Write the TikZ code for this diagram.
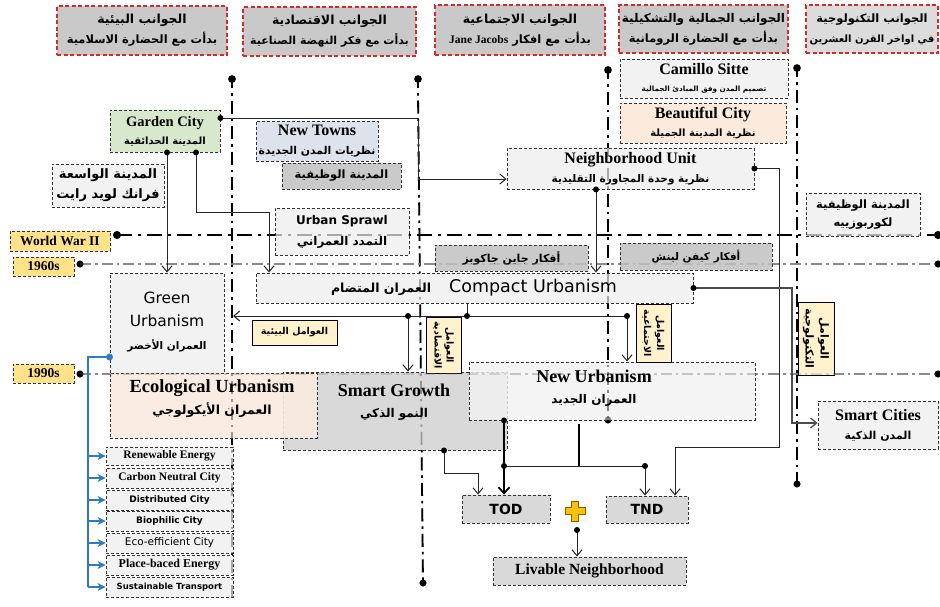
\documentclass[tikz,border=0pt]{standalone}
\usepackage{fontspec}
\setmainfont{Liberation Serif}
\newfontfamily\arf[Script=Arabic]{DejaVu Sans}
\newfontfamily\dvs{DejaVu Sans}
\TeXXeTstate=1
\usetikzlibrary{arrows.meta,calc}
\definecolor{hdrfill}{HTML}{C9C9C9}
\definecolor{hdrfillb}{HTML}{DCDCDC}
\definecolor{hdrred}{HTML}{D42A2A}
\definecolor{gcfill}{HTML}{D7E8CC}
\definecolor{ntfill}{HTML}{DDE3EC}
\definecolor{lgray}{HTML}{F2F2F2}
\definecolor{mgray}{HTML}{D9D9D9}
\definecolor{dgray}{HTML}{CACACA}
\definecolor{peach}{HTML}{FCEADC}
\definecolor{eufill}{HTML}{FAEBE1}
\definecolor{erafill}{HTML}{FFE28A}
\definecolor{facfill}{HTML}{FFF2CC}
\definecolor{blueline}{HTML}{2E7BC4}
\definecolor{plusfill}{HTML}{FFC000}
\definecolor{tlgray}{HTML}{8C8C8C}
\newcommand\AR[2]{{\arf\bfseries\fontsize{#1}{#1}\selectfont #2}}
\newcommand\EN[2]{{\bfseries\fontsize{#1}{#1}\selectfont #2}}
\newcommand\SN[2]{{\dvs\fontsize{#1}{#1}\selectfont #2}}
\newcommand\SB[2]{{\dvs\bfseries\fontsize{#1}{#1}\selectfont #2}}
\newcommand\bx[7]{\node[#6,minimum width={(#4)-(#2)},minimum height={(#5)-(#3)}] (#1) at ({((#2)+(#4))/2},{((#3)+(#5))/2}) {#7};}
\newcommand\rbx[7]{\node[#6,rotate=-90,minimum width={(#5)-(#3)},minimum height={(#4)-(#2)}] (#1) at ({((#2)+(#4))/2},{((#3)+(#5))/2}) {#7};}
\newcommand\timelines{%
  \fill (232,79) circle (3.8pt); \draw[line width=1.8pt] (232,79) -- (232,88);
  \draw[tlv] (232,93) -- (232,597);
  \fill (418,79) circle (3.8pt); \draw[line width=1.8pt] (418,79) -- (418,88);
  \draw[tlv] (418,93) -- (423,583); \fill (423,583) circle (3.5pt);
  \fill (608,70) circle (3.8pt); \draw[line width=1.8pt] (608,70) -- (608,79);
  \draw[tlv] (608,84) -- (608,420); \fill (608,420) circle (3.5pt);
  \fill (797,68) circle (3.8pt); \draw[line width=1.8pt] (797,68) -- (797,77);
  \draw[tlv] (797,82) -- (797,484); \fill (797,484) circle (3.5pt);
  \draw[tlh] (117,235) -- (938,235); \fill (117,235) circle (4pt); \fill (938,235) circle (4pt);
  \draw[tlg] (80,264) -- (938,264); \fill (80,264) circle (3.5pt); \fill (938,264) circle (3.5pt);
  \draw[tlg] (80,374) -- (938,374); \fill (80,374) circle (3.5pt); \fill (938,374) circle (3.5pt);
}
\begin{document}
\begin{tikzpicture}[x=1pt,y=-1pt,
  box/.style={draw=black!80, dash pattern=on 3pt off 2pt, line width=0.9pt, inner sep=0pt, align=center, font=\fontsize{10}{19}\selectfont},
  hdr/.style={draw=hdrred, dash pattern=on 4pt off 2.5pt, line width=1.3pt, inner sep=0pt, align=center, fill=hdrfill, font=\fontsize{10}{20}\selectfont},
  fac/.style={draw=black, line width=1pt, fill=facfill, inner sep=0pt, align=center},
  txt/.style={align=center, inner sep=0pt},
  conn/.style={line width=1pt, draw=black!85},
  arr/.style={conn, -{Straight Barb[length=6pt,width=10pt]}},
  tarr/.style={line width=1.8pt, draw=black, -{Straight Barb[length=6pt,width=11pt]}},
  barr/.style={line width=1.5pt, draw=blueline, -{Stealth[length=8pt,width=8pt]}},
  tlv/.style={line width=1.8pt, dash pattern=on 2.5pt off 5pt on 13pt off 5pt},
  tlh/.style={line width=2.2pt, dash pattern=on 15pt off 6pt on 3pt off 6pt},
  tlg/.style={line width=1.4pt, draw=tlgray, dash pattern=on 11pt off 4pt on 2.5pt off 4pt}]
\useasboundingbox (0,0) rectangle (940,606);
\fill[white] (0,0) rectangle (940,606);
\timelines
% headers
\bx{h1}{57}{6}{227}{55}{hdr}{\AR{12.5}{\beginR الجوانب البيئية\endR}\\\AR{11.5}{\beginR بدأت مع الحضارة الاسلامية\endR}}
\bx{h2}{243}{7}{416}{56}{hdr}{\AR{12.5}{\beginR الجوانب الاقتصادية\endR}\\\AR{11}{\beginR بدأت مع فكر النهضة الصناعية\endR}}
\bx{h3}{435}{5}{605}{55}{hdr}{\AR{12.5}{\beginR الجوانب الاجتماعية\endR}\\\AR{11.5}{\beginR بدأت مع افكار \beginL{\rmfamily Jane Jacobs}\endL\endR}}
\bx{h4}{619}{5}{788}{53}{hdr}{\AR{12}{\beginR الجوانب الجمالية والتشكيلية\endR}\\\AR{11.5}{\beginR بدأت مع الحضارة الرومانية\endR}}
\bx{h5}{806}{5}{938}{53}{hdr,fill=hdrfillb}{\AR{11.5}{\beginR الجوانب التكنولوجية\endR}\\\AR{10}{\beginR في اواخر القرن العشرين\endR}}
% eras
\bx{ww}{10}{231}{110}{251}{box,fill=erafill}{\EN{13.5}{World War II}}
\bx{s60}{13}{257}{74}{276}{box,fill=erafill}{\EN{13.5}{1960s}}
\bx{s90}{13}{364}{74}{383}{box,fill=erafill}{\EN{13.5}{1990s}}
% concept boxes
\bx{gc}{110}{110}{220}{152}{box,fill=gcfill,font=\fontsize{10}{18}\selectfont}{\EN{14.5}{Garden City}\\\AR{10}{\beginR المدينة الحدائقية\endR}}
\bx{flw}{52}{164}{164}{207}{box,fill=lgray,font=\fontsize{10}{20}\selectfont}{\AR{13}{\beginR المدينة الواسعة\endR}\\\AR{13}{\beginR فرانك لويد رايت\endR}}
\bx{nt}{256}{121}{378}{161}{box,fill=ntfill}{\EN{16}{New Towns}\\\AR{10.8}{\beginR نظريات المدن الجديدة\endR}}
\bx{fc}{282}{163}{401}{189}{box,fill=dgray}{\AR{11.5}{\beginR المدينة الوظيفية\endR}}
\bx{us}{275}{208}{409}{255}{box,fill=lgray,font=\fontsize{10}{21}\selectfont}{\SB{12}{Urban Sprawl}\\\AR{12}{\beginR التمدد العمراني\endR}}
\bx{cs}{620}{59}{788}{98}{box,fill=lgray,font=\fontsize{10}{17}\selectfont}{\EN{16}{Camillo Sitte}\\\AR{7.3}{\beginR تصميم المدن وفق المبادئ الجمالية\endR}}
\bx{bc}{620}{103}{786}{143}{box,fill=peach,font=\fontsize{10}{18}\selectfont}{\EN{16}{Beautiful City}\\\AR{10}{\beginR نظرية المدينة الجميلة\endR}}
\bx{nu}{507}{148}{754}{189}{box,fill=lgray}{\EN{16}{Neighborhood Unit}\\\AR{10.5}{\beginR نظرية وحدة المجاورة التقليدية\endR}}
\bx{cor}{806}{193}{920}{236}{box,fill=lgray,font=\fontsize{10}{18}\selectfont}{\AR{11.5}{\beginR المدينة الوظيفية\endR}\\\AR{11.5}{\beginR لكوربوزييه\endR}}
\bx{jj}{435}{245}{588}{271}{box,fill=dgray}{\AR{11}{\beginR أفكار جاين جاكوبز\endR}}
\bx{kl}{620}{243}{772}{270}{box,fill=dgray}{\AR{10.5}{\beginR أفكار كيفن لينش\endR}}
\bx{cu}{256}{273}{693}{303}{box,fill=lgray}{}
\bx{gu}{110}{273}{224}{373}{box,fill=lgray}{}
\bx{sg}{283}{372}{507}{450}{box,fill=mgray}{}
\bx{eu}{110}{373}{317}{438}{box,fill=eufill,fill opacity=0.9}{}
\bx{nurb}{469}{362}{755}{420}{box,fill=lgray,fill opacity=0.8}{}
\bx{sc}{818}{401}{938}{449}{box,fill=lgray}{\EN{16}{Smart Cities}\\\AR{11}{\beginR المدن الذكية\endR}}
\bx{tod}{462}{495}{550}{523}{box,fill=mgray}{\SB{14}{TOD}}
\bx{tnd}{606}{496}{688}{523}{box,fill=mgray}{\SB{14}{TND}}
\bx{ln}{493}{557}{686}{585}{box,fill=mgray}{\EN{15.5}{Livable Neighborhood}}
% factor boxes
\bx{ebf}{252}{320}{337}{345}{fac}{\AR{9.5}{\beginR العوامل البيئية\endR}}
\rbx{eco}{426}{317}{461}{373}{fac,font=\fontsize{8}{12}\selectfont}{\AR{9.5}{\beginR العوامل\endR}\\\AR{9.5}{\beginR الاقتصادية\endR}}
\rbx{soc}{636}{304}{671}{362}{fac,font=\fontsize{8}{13}\selectfont}{\AR{9.5}{\beginR العوامل\endR}\\\AR{9.5}{\beginR الاجتماعية\endR}}
\rbx{tec}{798}{302}{834}{375}{fac,font=\fontsize{9}{15}\selectfont}{\AR{11}{\beginR العوامل\endR}\\\AR{11}{\beginR التكنولوجية\endR}}
% list
\bx{l1}{106}{447}{233}{465}{box,fill=lgray}{\EN{11.5}{Renewable Energy}}
\bx{l2}{106}{468}{233}{488}{box,fill=lgray}{\EN{11.5}{Carbon Neutral City}}
\bx{l3}{106}{490}{233}{510}{box,fill=lgray}{\SB{9}{Distributed City}}
\bx{l4}{106}{511}{233}{531}{box,fill=lgray}{\SB{9}{Biophilic City}}
\bx{l5}{106}{533}{233}{553}{box,fill=lgray}{\SN{10.5}{Eco-efficient City}}
\bx{l6}{106}{555}{233}{575}{box,fill=lgray}{\EN{12}{Place-baced Energy}}
\bx{l7}{106}{577}{233}{597}{box,fill=lgray}{\SB{8.5}{Sustainable Transport}}
% faint timelines over boxes
\begin{scope}[opacity=0.3]\timelines\end{scope}
% texts of large boxes
\node[txt] (cut) at (474,288) {\AR{12.5}{\beginR العمران المتضام\endR}\hspace{18pt}\SN{17.5}{Compact Urbanism}};
\node[txt,font=\fontsize{10}{23}\selectfont] (gut) at (167,322) {\SN{15.5}{Green}\\\SN{15.5}{Urbanism}\\\AR{10.5}{\beginR العمران الأخضر\endR}};
\node[txt,font=\fontsize{10}{22}\selectfont] (eut) at (212,399) {\EN{18.5}{Ecological Urbanism}\\\AR{12.5}{\beginR العمران الأيكولوجي\endR}};
\node[txt,font=\fontsize{10}{21}\selectfont] (sgt) at (394,402) {\EN{18}{Smart Growth}\\\AR{12}{\beginR النمو الذكي\endR}};
\node[txt,font=\fontsize{10}{21}\selectfont] (nut) at (594,388) {\EN{18}{New Urbanism}\\\AR{12}{\beginR العمران الجديد\endR}};
% connectors
\coordinate (j1) at (418,118); \coordinate (j2) at (418,179);
\draw[arr] (gc.east |- j1) -- (j1) -- (j2) -- (j2 -| nu.west);
\fill (gc.east |- j1) circle (3pt);
\draw[arr] (gc.south -| gu.north) -- (gu.north);
\fill (gc.south -| gu.north) circle (3pt);
\coordinate (j3) at (196,212); \coordinate (j4) at (269,212);
\draw[arr] (gc.south -| j3) -- (j3) -- (j4) -- (j4 |- cu.north);
\fill (gc.south -| j3) circle (3pt);
\coordinate (j5) at (596,200);
\draw[arr] (nu.south -| j5) -- (j5 |- cu.north);
\fill (nu.south -| j5) circle (3pt);
\coordinate (j6) at (779,168); \coordinate (j7) at (779,447); \coordinate (j8) at (675,447);
\draw[arr] (nu.east) -- (nu.east -| j6) -- (j7) -- (j8) -- (j8 |- tnd.north);
\fill (nu.east) circle (3pt);
\coordinate (j9) at (792,423);
\draw[arr,draw=black!70,line width=1.3pt] (cu.east) -- (cu.east -| j9) -- (j9) -- (j9 -| sc.west);
\fill (cu.east) circle (3pt);
\coordinate (k0) at (467,316); \coordinate (k1) at (408,316); \coordinate (k2) at (627,316); \coordinate (k3) at (233,316);
\draw[conn] (cu.south -| k0) -- (k0);
\draw[arr] (k2) -- (k3);
\draw[arr] (k1) -- (k1 |- sg.north);
\draw[arr] (k2) -- (k2 |- nurb.north);
\fill (k0) circle (3pt); \fill (k1) circle (3pt); \fill (k2) circle (3pt);
\coordinate (m1) at (444,473); \coordinate (m2) at (478,473);
\draw[arr] (sg.south -| m1) -- (m1) -- (m2) -- (m2 |- tod.north);
\fill (sg.south -| m1) circle (3pt);
\coordinate (n1) at (504,466); \coordinate (n2) at (645,466); \coordinate (n3) at (579,424);
\draw[tarr] (nurb.south -| n1) -- (n1 |- tod.north);
\draw[conn] (n1) -- (n2);
\draw[arr] (n2) -- (n2 |- tnd.north);
\draw[line width=1.8pt] (n3) -- (n3 |- n1);
\fill (nurb.south -| n1) circle (3pt); \fill (n1) circle (3pt); \fill (n2) circle (3pt);
% plus
\coordinate (pl) at (575,511); \coordinate (pd) at (577,530);
\draw[fill=plusfill, draw=black!50!plusfill, line width=0.7pt]
  ($(pl)+(-3.5,-10)$) -- ($(pl)+(3.5,-10)$) -- ($(pl)+(3.5,-3.5)$) -- ($(pl)+(10,-3.5)$) -- ($(pl)+(10,3.5)$) -- ($(pl)+(3.5,3.5)$) -- ($(pl)+(3.5,10)$) -- ($(pl)+(-3.5,10)$) -- ($(pl)+(-3.5,3.5)$) -- ($(pl)+(-10,3.5)$) -- ($(pl)+(-10,-3.5)$) -- ($(pl)+(-3.5,-3.5)$) -- cycle;
\draw[arr] (pd) -- (pd |- ln.north);
\fill (pd) circle (3pt);
% blue
\coordinate (b0) at (88,357); \coordinate (b1) at (88,587);
\draw[blueline, line width=1.6pt] (gu.west |- b0) -- (b0) -- (b1);
\fill[blueline] (gu.west |- b0) circle (3.5pt);
\foreach \n in {1,...,7} \draw[barr] (b0 |- l\n.west) -- (l\n.west);
\end{tikzpicture}
\end{document}
